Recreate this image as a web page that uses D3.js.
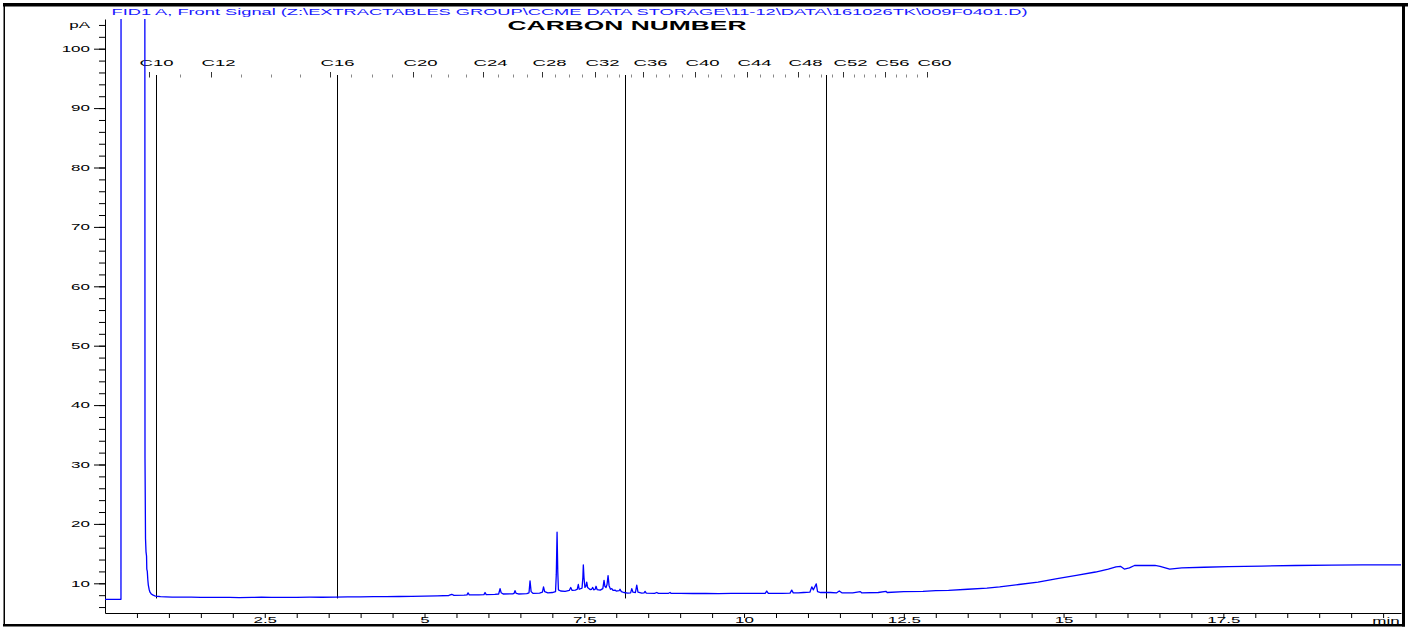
<!DOCTYPE html>
<html>
<head>
<meta charset="utf-8">
<script src="https://cdn.jsdelivr.net/npm/d3@7"></script>
<style>
  html, body { margin: 0; padding: 0; background: #fff; }
  svg { display: block; font-family: "Liberation Sans", Arial, sans-serif; }
</style>
</head>
<body>
<svg id="chart" width="1408" height="627"></svg>
<script>
// FID1 A chromatogram: retention time (min) and detector signal (pA)
const retentionTime = [
  0.00, 0.25, 0.252, 0.62, 0.626, 0.634, 0.642, 0.650, 0.654, 0.662, 0.670, 0.678, 0.690, 0.704, 0.725, 0.746,
  0.780, 0.810, 0.870, 0.950, 1.05, 1.20, 1.35, 1.50, 1.65, 1.80, 1.95, 2.10, 2.30, 2.45, 2.60, 2.80,
  3.00, 3.20, 3.40, 3.60, 3.80, 4.00, 4.20, 4.40, 4.60, 4.80, 5.00, 5.20, 5.38, 5.426, 5.46, 5.62,
  5.665, 5.681, 5.70, 5.85, 5.930, 5.947, 5.965, 6.10, 6.160, 6.182, 6.200, 6.23, 6.38, 6.400, 6.416, 6.435,
  6.47, 6.60, 6.635, 6.651, 6.668, 6.70, 6.80, 6.845, 6.862, 6.880, 6.93, 7.00, 7.050, 7.062, 7.074, 7.085,
  7.095, 7.13, 7.20, 7.265, 7.288, 7.31, 7.36, 7.390, 7.407, 7.42, 7.465, 7.478, 7.485, 7.495, 7.510, 7.525,
  7.538, 7.552, 7.59, 7.615, 7.632, 7.648, 7.67, 7.684, 7.70, 7.75, 7.79, 7.809, 7.822, 7.840, 7.856, 7.872,
  7.888, 7.91, 7.930, 7.95, 7.981, 8.00, 8.045, 8.059, 8.08, 8.12, 8.18, 8.225, 8.243, 8.262, 8.30, 8.321,
  8.340, 8.40, 8.435, 8.451, 8.47, 8.60, 8.634, 8.66, 8.82, 8.842, 8.86, 9.00, 9.20, 9.40, 9.60, 9.80,
  10.00, 10.33, 10.355, 10.38, 10.60, 10.72, 10.746, 10.77, 10.85, 10.93, 11.03, 11.06, 11.085, 11.13, 11.15, 11.20,
  11.35, 11.45, 11.49, 11.53, 11.70, 11.82, 11.84, 12.10, 12.22, 12.24, 12.50, 12.80, 13.00, 13.20, 13.50, 13.80,
  14.00, 14.30, 14.60, 14.90, 15.20, 15.50, 15.70, 15.82, 15.89, 15.95, 16.03, 16.11, 16.43, 16.51, 16.66, 16.85,
  17.20, 17.58, 18.10, 18.63, 19.20, 19.68, 20.28
];
const signal = [
  7.30, 7.30, 220, 220, 31, 17.5, 15.3, 14.6, 12.4, 12.0, 10.6, 9.7, 9.0, 8.5, 8.2, 8.05,
  7.90, 7.82, 7.75, 7.72, 7.68, 7.66, 7.68, 7.63, 7.64, 7.62, 7.63, 7.60, 7.62, 7.65, 7.62, 7.62,
  7.64, 7.66, 7.65, 7.68, 7.70, 7.72, 7.74, 7.75, 7.78, 7.80, 7.83, 7.88, 7.95, 8.15, 7.97, 8.00,
  8.05, 8.40, 8.05, 8.05, 8.10, 8.45, 8.10, 8.12, 8.20, 9.10, 8.40, 8.20, 8.22, 8.30, 8.75, 8.30,
  8.20, 8.25, 8.40, 10.4, 8.60, 8.30, 8.35, 8.50, 9.40, 8.60, 8.40, 8.45, 8.60, 11.5, 18.6, 12.0,
  8.90, 8.70, 8.65, 8.80, 9.30, 8.80, 8.85, 9.00, 9.80, 9.00, 9.20, 11.0, 13.1, 11.0, 9.30, 9.50,
  10.2, 9.30, 8.95, 9.00, 9.30, 8.90, 9.00, 9.50, 8.95, 8.85, 9.10, 10.5, 9.50, 9.30, 9.80, 11.3,
  9.60, 9.00, 9.10, 8.80, 8.85, 8.70, 8.75, 9.00, 8.60, 8.45, 8.35, 8.40, 9.10, 8.50, 8.45, 9.70,
  8.50, 8.35, 8.40, 8.65, 8.35, 8.30, 8.45, 8.30, 8.32, 8.45, 8.30, 8.30, 8.28, 8.30, 8.27, 8.30,
  8.30, 8.30, 8.70, 8.30, 8.30, 8.35, 8.85, 8.40, 8.40, 8.45, 8.50, 9.40, 8.90, 9.90, 8.60, 8.45,
  8.45, 8.40, 8.70, 8.40, 8.40, 8.60, 8.40, 8.45, 8.65, 8.45, 8.60, 8.65, 8.75, 8.80, 9.00, 9.20,
  9.40, 9.80, 10.2, 10.8, 11.35, 11.9, 12.4, 12.75, 12.86, 12.40, 12.6, 13.0, 13.0, 12.86, 12.40, 12.6,
  12.7, 12.8, 12.9, 13.0, 13.05, 13.1, 13.1
];

// Carbon-number markers (labelled n-alkanes and their retention times, min)
const carbonNumbers = [10, 12, 16, 20, 24, 28, 32, 36, 40, 44, 48, 52, 56, 60];
const carbonTimes = [0.689, 1.659, 3.521, 4.820, 5.915, 6.839, 7.668, 8.419, 9.233, 10.047, 10.845, 11.549, 12.207, 12.864];
// Fraction boundary markers (min)
const fractionTimes = [0.80, 3.63, 8.14, 11.28];

// Axis ticks
const yMajorTicks = [10, 20, 30, 40, 50, 60, 70, 80, 90, 100];
const xLabelTicks = [2.5, 5, 7.5, 10, 12.5, 15, 17.5];

const headerText = "FID1 A, Front Signal (Z:\\EXTRACTABLES GROUP\\CCME DATA STORAGE\\11-12\\DATA\\161026TK\\009F0401.D)";

const svg = d3.select("#chart");
const plot = { left: 105, right: 1401, top: 19, bottom: 613 };

const x = d3.scaleLinear().domain([0, 20.28]).range([plot.left, plot.right]);
const y = d3.scaleLinear().domain([5, 105]).range([plot.bottom, plot.top]);

// widen text horizontally (the printout uses an expanded face)
function stretch(sel, sx) {
  sel.each(function () {
    const t = d3.select(this);
    const x0 = +t.attr("x") || 0;
    t.attr("x", x0 / sx).attr("transform", `scale(${sx},1)`);
  });
}

svg.append("rect").attr("width", 1408).attr("height", 627).attr("fill", "#fff");

// Header
svg.append("text")
  .attr("x", 111.5).attr("y", 15)
  .attr("font-size", 9).attr("fill", "#1a1aff")
  .attr("textLength", 916).attr("lengthAdjust", "spacingAndGlyphs")
  .text(headerText);

// Title
svg.append("g").attr("transform", "translate(627,29.5)")
  .append("text")
  .attr("text-anchor", "middle").attr("font-size", 12).attr("font-weight", "bold")
  .attr("fill", "#000").text("CARBON NUMBER")
  .attr("transform", "scale(2.2,1)");

// Y axis: minor ticks every 2 pA, majors every 10 pA
const yMinor = svg.append("g").attr("transform", `translate(${plot.left},0)`)
  .call(d3.axisLeft(y).tickValues(d3.range(3, 53).map(i => i * 2)).tickSize(6).tickSizeOuter(0).tickFormat(""));
yMinor.select(".domain").attr("stroke", "#000");
const yMajor = svg.append("g").attr("transform", `translate(${plot.left},0)`)
  .call(d3.axisLeft(y).tickValues(yMajorTicks).tickSize(11).tickPadding(4).tickFormat(d3.format("d")));
yMajor.select(".domain").remove();
yMajor.selectAll("text").attr("font-size", 8.5).attr("font-family", null).attr("fill", "#000");
stretch(yMajor.selectAll("text"), 2.0);
yMajor.selectAll("line").attr("stroke", "#000");

// unit label at the top tick
svg.append("g").attr("transform", `translate(90,${y(104) + 3})`)
  .append("text").attr("text-anchor", "end").attr("font-size", 8.5).text("pA")
  .attr("transform", "scale(2.0,1)");

// X axis: ticks every 0.5 min, labels every 2.5 min
const xAxis = svg.append("g").attr("transform", `translate(0,${plot.bottom})`)
  .call(d3.axisBottom(x).tickValues(d3.range(1, 41).map(i => i * 0.5)).tickSize(5).tickSizeOuter(0)
    .tickFormat(d => xLabelTicks.includes(d) ? String(d) : ""));
xAxis.select(".domain").attr("stroke", "#000");
xAxis.selectAll("line").attr("stroke", "#000");
xAxis.selectAll("text").attr("font-size", 8.5).attr("font-family", null).attr("fill", "#000")
  .attr("y", 10.5).attr("dy", 0);
stretch(xAxis.selectAll("text"), 2.0);
svg.append("g").attr("transform", `translate(1386,${plot.bottom + 10.5})`)
  .append("text").attr("text-anchor", "middle").attr("font-size", 8.5).text("min")
  .attr("transform", "scale(2.0,1)");

// Carbon-number ruler: a tick for every carbon, labels on the listed ones
const carbonScale = d3.scaleLinear().domain(carbonNumbers).range(carbonTimes);
const allCarbons = d3.range(carbonNumbers[0], carbonNumbers[carbonNumbers.length - 1] + 1);
const ruler = svg.append("g");
ruler.selectAll("line.ct").data(allCarbons).join("line")
  .attr("class", "ct")
  .attr("x1", c => Math.round(x(carbonScale(c))) + 0.5)
  .attr("x2", c => Math.round(x(carbonScale(c))) + 0.5)
  .attr("y1", c => carbonNumbers.includes(c) ? 72 : 74.5)
  .attr("y2", 77.5)
  .attr("stroke", c => carbonNumbers.includes(c) ? "#333" : "#888")
  .attr("stroke-width", 1);
ruler.selectAll("g.cl").data(carbonNumbers).join("g")
  .attr("class", "cl")
  .attr("transform", (c, i) => `translate(${x(carbonTimes[i]) + 7.5},66)`)
  .append("text")
  .attr("text-anchor", "middle").attr("font-size", 9.5).attr("fill", "#000")
  .attr("transform", "scale(1.95,1)")
  .text(c => "C" + c);

// Fraction boundary lines
svg.append("g").selectAll("line").data(fractionTimes).join("line")
  .attr("x1", t => Math.round(x(t)) + 0.5).attr("x2", t => Math.round(x(t)) + 0.5)
  .attr("y1", 75).attr("y2", y(7.45))
  .attr("stroke", "#000").attr("stroke-width", 1);

// Trace (clipped to the plotting area)
svg.append("clipPath").attr("id", "plot-clip")
  .append("rect").attr("x", plot.left).attr("y", plot.top)
  .attr("width", plot.right - plot.left).attr("height", plot.bottom - plot.top);

const trace = retentionTime.map((t, i) => [t, signal[i]]);
svg.append("path")
  .datum(trace)
  .attr("clip-path", "url(#plot-clip)")
  .attr("fill", "none")
  .attr("stroke", "#0000ff")
  .attr("stroke-width", 1.3)
  .attr("stroke-linejoin", "round")
  .attr("d", d3.line().x(d => x(d[0])).y(d => y(d[1])));

// Page frame
const frame = svg.append("g").attr("fill", "#000");
frame.append("rect").attr("x", 3).attr("y", 3).attr("width", 1405).attr("height", 3.5);
frame.append("rect").attr("x", 3.5).attr("y", 3).attr("width", 1.5).attr("height", 623);
frame.append("rect").attr("x", 1402).attr("y", 3).attr("width", 3).attr("height", 623.5);
frame.append("rect").attr("x", 3).attr("y", 624).attr("width", 1402).attr("height", 2.5);
</script>
</body>
</html>
